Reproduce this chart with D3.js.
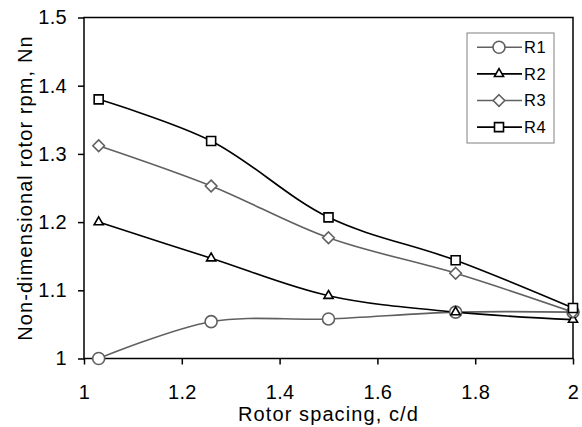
<!DOCTYPE html>
<html>
<head>
<meta charset="utf-8">
<script src="https://cdn.jsdelivr.net/npm/d3@7"></script>
<style>
  html, body { margin: 0; padding: 0; background: #fff; }
  svg { display: block; font-family: "Liberation Sans", Arial, sans-serif; }
</style>
</head>
<body>
<svg id="chart" width="582" height="427"></svg>
<script>
// Rotor spacing (c/d) at which each rotor was measured
const spacing = [1.03, 1.26, 1.5, 1.76, 2.0];

// Non-dimensional rotor rpm for each rotor
const seriesNames = ["R1", "R2", "R3", "R4"];
const r1 = [1.0, 1.054, 1.058, 1.068, 1.068];
const r2 = [1.2, 1.147, 1.092, 1.068, 1.057];
const r3 = [1.312, 1.253, 1.177, 1.125, 1.068];
const r4 = [1.38, 1.319, 1.207, 1.144, 1.074];

const xTicks = [1, 1.2, 1.4, 1.6, 1.8, 2];
const yTicks = [1, 1.1, 1.2, 1.3, 1.4, 1.5];

const series = [
  { name: seriesNames[0], values: r1, color: "#606060", marker: "circle" },
  { name: seriesNames[1], values: r2, color: "#000000", marker: "triangle" },
  { name: seriesNames[2], values: r3, color: "#606060", marker: "diamond" },
  { name: seriesNames[3], values: r4, color: "#000000", marker: "square" }
];

const svg = d3.select("#chart");
const plotLeft = 84, plotRight = 573, plotTop = 17.5, plotBottom = 358.5;

const x = d3.scaleLinear().domain([1, 2]).range([plotLeft, plotRight]);
const y = d3.scaleLinear().domain([1, 1.5]).range([plotBottom, plotTop]);

const fmt = d => (d === 1 || d === 2) ? String(d) : d3.format(".1f")(d);

// Axes
const xAxis = svg.append("g")
  .attr("transform", `translate(0,${plotBottom})`)
  .call(d3.axisBottom(x).tickValues(xTicks).tickFormat(fmt).tickSizeOuter(0).tickSize(6).tickPadding(20));
const yAxis = svg.append("g")
  .attr("transform", `translate(${plotLeft},0)`)
  .call(d3.axisLeft(y).tickValues(yTicks).tickFormat(fmt).tickSizeOuter(0).tickSize(6).tickPadding(11));

[xAxis, yAxis].forEach(g => {
  g.select(".domain").remove();
  g.selectAll(".tick line").attr("stroke", "#000").attr("stroke-width", 1.5);
  g.selectAll(".tick text")
    .attr("fill", "#000")
    .style("font-family", "Liberation Sans, Arial, sans-serif")
    .style("font-size", "20px")
    .style("letter-spacing", "0.3px");
});

// Plot frame
svg.append("rect")
  .attr("x", plotLeft).attr("y", plotTop)
  .attr("width", plotRight - plotLeft).attr("height", plotBottom - plotTop)
  .attr("fill", "none").attr("stroke", "#000").attr("stroke-width", 1.5);

// Axis titles
svg.append("text")
  .attr("x", (plotLeft + plotRight) / 2).attr("y", 421)
  .attr("text-anchor", "middle")
  .style("font-size", "20px")
  .style("letter-spacing", "1.1px")
  .text("Rotor spacing, c/d");

svg.append("text")
  .attr("transform", `translate(32,${(plotTop + plotBottom) / 2}) rotate(-90)`)
  .attr("text-anchor", "middle")
  .style("font-size", "20px")
  .style("letter-spacing", "1.1px")
  .text("Non-dimensional rotor rpm, Nn");

// Marker shapes
const symbolPath = {
  circle: d3.symbol().type(d3.symbolCircle).size(Math.PI * 36)(),
  triangle: d3.symbol().type(d3.symbolTriangle).size(36)(),
  diamond: "M0,-5.8L5.8,0L0,5.8L-5.8,0Z",
  square: "M-4.5,-4.5H4.5V4.5H-4.5Z"
};

const line = d3.line()
  .x((d, i) => x(spacing[i]))
  .y(d => y(d))
  .curve(d3.curveCatmullRom.alpha(0.5));

const plot = svg.append("g");
series.forEach(s => {
  plot.append("path")
    .attr("d", line(s.values))
    .attr("fill", "none")
    .attr("stroke", s.color)
    .attr("stroke-width", 1.6);
});
series.forEach(s => {
  plot.selectAll(null)
    .data(s.values)
    .join("path")
    .attr("transform", (d, i) => `translate(${x(spacing[i])},${y(d)})`)
    .attr("d", symbolPath[s.marker])
    .attr("fill", "#fff")
    .attr("stroke", s.color)
    .attr("stroke-width", 1.6);
});

// Legend
const legend = svg.append("g");
legend.append("rect")
  .attr("x", 467).attr("y", 33).attr("width", 87).attr("height", 110)
  .attr("fill", "#fff").attr("stroke", "#808080").attr("stroke-width", 1);

series.forEach((s, i) => {
  const ly = 47.3 + i * 26.6;
  const g = legend.append("g");
  g.append("line")
    .attr("x1", 477).attr("x2", 522).attr("y1", ly).attr("y2", ly)
    .attr("stroke", s.color).attr("stroke-width", 1.6);
  g.append("path")
    .attr("transform", `translate(499,${ly})`)
    .attr("d", symbolPath[s.marker])
    .attr("fill", "#fff").attr("stroke", s.color).attr("stroke-width", 1.6);
  g.append("text")
    .attr("x", 524).attr("y", ly).attr("dy", "0.36em")
    .style("font-size", "16.5px")
    .style("letter-spacing", "0.6px")
    .text(s.name);
});
</script>
</body>
</html>
